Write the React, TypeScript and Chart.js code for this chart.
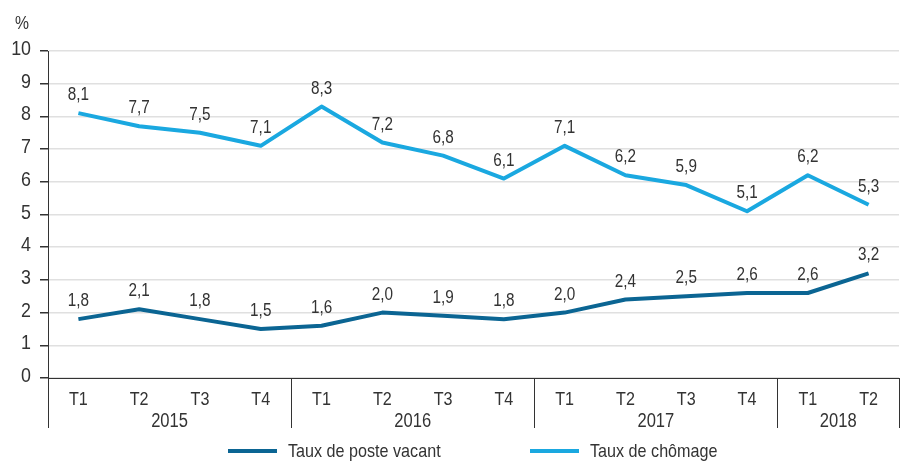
import React, { useEffect, useRef } from "react";
import { Chart, registerables } from "chart.js";

Chart.register(...registerables);

const quarters = ["T1", "T2", "T3", "T4", "T1", "T2", "T3", "T4", "T1", "T2", "T3", "T4", "T1", "T2"];
const years = ["2015", "2016", "2017", "2018"];
const yearSizes = [4, 4, 4, 2];
const vacantRate = [1.8, 2.1, 1.8, 1.5, 1.6, 2.0, 1.9, 1.8, 2.0, 2.4, 2.5, 2.6, 2.6, 3.2];
const unemploymentRate = [8.1, 7.7, 7.5, 7.1, 8.3, 7.2, 6.8, 6.1, 7.1, 6.2, 5.9, 5.1, 6.2, 5.3];
const seriesNames = ["Taux de poste vacant", "Taux de chômage"];
const yTicks = [0, 1, 2, 3, 4, 5, 6, 7, 8, 9, 10];
const unitLabel = "%";

const FONT = "'Liberation Sans', Arial, sans-serif";
const NARROW = 0.85;
const TEXT = "#333333";
const DARK = "#0b6593";
const LIGHT = "#1aa8e0";

function narrowText(ctx: CanvasRenderingContext2D, text: string, x: number, y: number, size: number, align: CanvasTextAlign) {
  ctx.save();
  ctx.font = `${size}px ${FONT}`;
  ctx.textAlign = align;
  ctx.textBaseline = "alphabetic";
  ctx.fillStyle = TEXT;
  ctx.translate(x, y);
  ctx.scale(NARROW, 1);
  ctx.fillText(text, 0, 0);
  ctx.restore();
}

const overlay = {
  id: "overlay",
  afterDraw(chart: any) {
    const ctx = chart.ctx;
    const x = chart.scales.x;
    const y = chart.scales.y;
    const area = chart.chartArea;
    ctx.save();
    // data labels
    chart.data.datasets.forEach((ds: any, i: number) => {
      const meta = chart.getDatasetMeta(i);
      meta.data.forEach((pt: any, j: number) => {
        const v = ds.data[j];
        narrowText(ctx, v.toFixed(1).replace(".", ","), pt.x, pt.y - 13, 18, "center");
      });
    });
    // y tick labels
    yTicks.forEach((v) => {
      narrowText(ctx, String(v), area.left - 17, y.getPixelForValue(v) + 4, 21, "right");
    });
    // x tick labels
    quarters.forEach((q, i) => {
      narrowText(ctx, q, x.getPixelForValue(i), area.bottom + 27, 19, "center");
    });
    // separators
    ctx.strokeStyle = TEXT;
    ctx.lineWidth = 1;
    const bottom = area.bottom + 50;
    let idx = 0;
    const bounds: number[] = [area.left];
    yearSizes.forEach((n) => {
      idx += n;
      if (idx < quarters.length) {
        bounds.push((x.getPixelForValue(idx - 1) + x.getPixelForValue(idx)) / 2);
      } else {
        bounds.push(area.right);
      }
    });
    bounds.forEach((bx) => {
      const px = Math.round(bx) + 0.5;
      ctx.beginPath();
      ctx.moveTo(px, area.bottom);
      ctx.lineTo(px, bottom);
      ctx.stroke();
    });
    // year labels
    idx = 0;
    years.forEach((yr, k) => {
      const first = idx;
      const last = idx + yearSizes[k] - 1;
      const cx = (x.getPixelForValue(first) + x.getPixelForValue(last)) / 2;
      narrowText(ctx, yr, cx, area.bottom + 49, 19.5, "center");
      idx += yearSizes[k];
    });
    // unit label
    narrowText(ctx, unitLabel, 15, 29, 18.5, "left");
    // legend
    const ly = 451;
    const items = [
      { x: 228, color: DARK, name: seriesNames[0] },
      { x: 530, color: LIGHT, name: seriesNames[1] },
    ];
    items.forEach((it) => {
      ctx.strokeStyle = it.color;
      ctx.lineWidth = 4;
      ctx.beginPath();
      ctx.moveTo(it.x, ly);
      ctx.lineTo(it.x + 49, ly);
      ctx.stroke();
      narrowText(ctx, it.name, it.x + 60, ly + 6, 19, "left");
    });
    ctx.restore();
  },
};

export default function App() {
  const ref = useRef<HTMLCanvasElement>(null);
  useEffect(() => {
    document.body.style.margin = "0";
    const chart = new Chart(ref.current!, {
      type: "line",
      data: {
        labels: quarters,
        datasets: [
          {
            label: seriesNames[0],
            data: vacantRate,
            borderColor: DARK,
            backgroundColor: DARK,
            borderWidth: 4,
            pointRadius: 0,
            tension: 0,
            borderJoinStyle: "round",
          },
          {
            label: seriesNames[1],
            data: unemploymentRate,
            borderColor: LIGHT,
            backgroundColor: LIGHT,
            borderWidth: 4,
            pointRadius: 0,
            tension: 0,
            borderJoinStyle: "round",
          },
        ],
      },
      options: {
        animation: false,
        responsive: false,
        maintainAspectRatio: false,
        layout: { padding: { top: 51, right: 5, bottom: 0, left: 0 } },
        plugins: { legend: { display: false }, tooltip: { enabled: false } },
        scales: {
          x: {
            offset: true,
            grid: { display: false, drawTicks: false },
            border: { display: true, color: TEXT, width: 1 },
            ticks: { display: false, autoSkip: false },
            afterFit(scale: any) {
              scale.height = 84;
            },
          },
          y: {
            min: 0,
            max: 10,
            afterBuildTicks(scale: any) {
              scale.ticks = yTicks.map((v) => ({ value: v }));
            },
            grid: {
              color: "#e0e0e0",
              lineWidth: 1.5,
              tickLength: 8,
              tickColor: TEXT,
            },
            border: { display: true, color: TEXT, width: 1 },
            ticks: { display: false },
            afterFit(scale: any) {
              scale.width = 48;
            },
          },
        },
      },
      plugins: [overlay],
    });
    return () => chart.destroy();
  }, []);
  return (
    <div style={{ width: 904, height: 462, background: "#fff" }}>
      <canvas ref={ref} width={904} height={462} style={{ display: "block" }} />
    </div>
  );
}
